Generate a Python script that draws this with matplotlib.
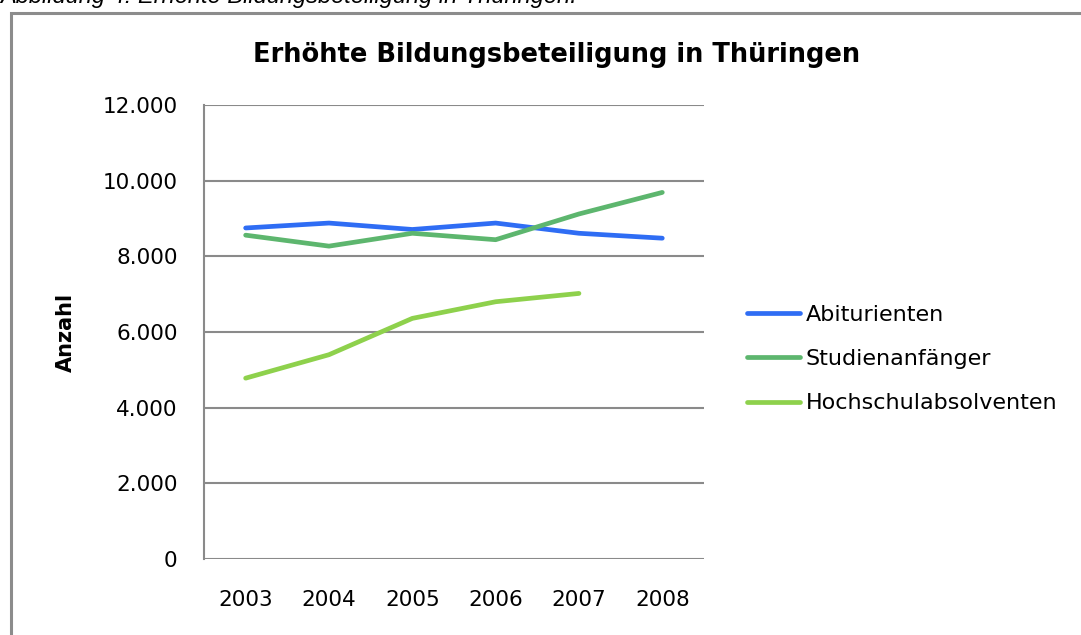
import matplotlib.pyplot as plt
from matplotlib.patches import Rectangle
from matplotlib.ticker import FuncFormatter

# Data
years = ['2003', '2004', '2005', '2006', '2007', '2008']
abiturienten = [8750, 8880, 8710, 8880, 8610, 8480]
studienanfaenger = [8560, 8270, 8610, 8440, 9120, 9690]
hochschulabsolventen = [4780, 5400, 6360, 6800, 7020]

series_names = ['Abiturienten', 'Studienanfänger', 'Hochschulabsolventen']
colors = ['#2F6DF4', '#5DB66E', '#8ED14C']

fig = plt.figure(figsize=(10.81, 6.35), dpi=100)
ax = fig.add_axes([0.1887, 0.1197, 0.4625, 0.7149])

x = list(range(len(years)))
ax.plot(x, abiturienten, color=colors[0], lw=3.4, label=series_names[0], solid_capstyle='round')
ax.plot(x, studienanfaenger, color=colors[1], lw=3.4, label=series_names[1], solid_capstyle='round')
ax.plot(x[:len(hochschulabsolventen)], hochschulabsolventen, color=colors[2], lw=3.4,
        label=series_names[2], solid_capstyle='round')

ax.set_xlim(-0.5, len(years) - 0.5)
ax.set_ylim(0, 12000)
ax.set_yticks(range(0, 12001, 2000))
ax.yaxis.set_major_formatter(FuncFormatter(lambda v, p: f'{int(v):,}'.replace(',', '.')))
ax.set_xticks(x)
ax.set_xticklabels(years)

ax.grid(axis='y', color='#8a8a8a', lw=1.5)
ax.set_axisbelow(True)
for side in ['top', 'right', 'bottom']:
    ax.spines[side].set_visible(False)
ax.spines['left'].set_color('#8a8a8a')
ax.spines['left'].set_linewidth(1.5)
ax.tick_params(axis='both', length=0, labelsize=15.5)
ax.tick_params(axis='y', pad=19)
ax.tick_params(axis='x', pad=22)

ax.set_ylabel('Anzahl', fontsize=15, fontweight='bold', labelpad=19)

fig.text(557 / 1081, 1 - 55 / 635, 'Erhöhte Bildungsbeteiligung in Thüringen',
         ha='center', va='center', fontsize=18.5, fontweight='bold')

ax.legend(loc='center left', bbox_to_anchor=(738 / 1081, 1 - 359 / 635),
          bbox_transform=fig.transFigure, frameon=False, fontsize=16,
          handlelength=2.4, handletextpad=0.25, labelspacing=1.1, borderaxespad=0)

# outer chart frame
fig.patches.append(Rectangle((11 / 1081, -0.05), 1.1, 1 - 13 / 635 + 0.05,
                             transform=fig.transFigure, fill=False,
                             edgecolor='#8c8c8c', lw=2.2))

# caption, clipped at the top edge as in the source page
fig.text(0, 1 - 3 / 635, 'Abbildung 4: Erhöhte Bildungsbeteiligung in Thüringen.',
         ha='left', va='baseline', fontsize=17, style='italic', family='Liberation Sans')

fig.savefig('out.png', dpi=100)
